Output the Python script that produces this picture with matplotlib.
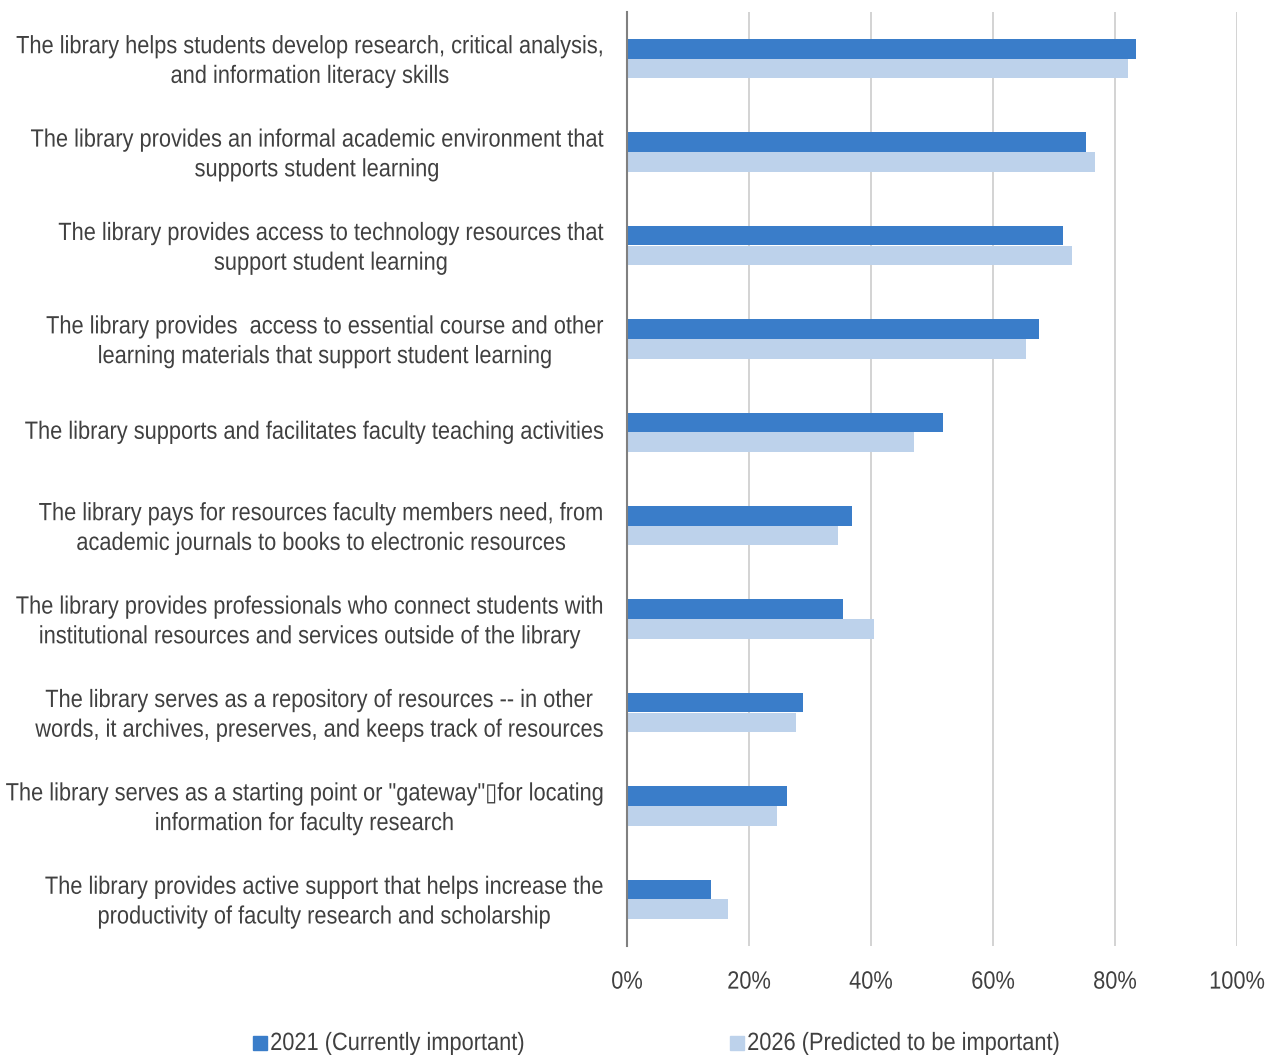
import matplotlib.pyplot as plt
import numpy as np
from matplotlib.patheffects import AbstractPathEffect
from matplotlib.transforms import Affine2D, ScaledTranslation
from matplotlib.patches import Rectangle

plt.rcParams['font.family'] = ['Liberation Sans', 'DejaVu Sans']

categories = [
    "The library helps students develop research, critical analysis,\nand information literacy skills",
    "The library provides an informal academic environment that\nsupports student learning",
    "The library provides access to technology resources that\nsupport student learning",
    "The library provides  access to essential course and other\nlearning materials that support student learning",
    "The library supports and facilitates faculty teaching activities",
    "The library pays for resources faculty members need, from\nacademic journals to books to electronic resources",
    "The library provides professionals who connect students with\ninstitutional resources and services outside of the library",
    "The library serves as a repository of resources -- in other\nwords, it archives, preserves, and keeps track of resources",
    "The library serves as a starting point or \"gateway\"\u25affor locating\ninformation for faculty research",
    "The library provides active support that helps increase the\nproductivity of faculty research and scholarship",
]
series_names = ['2021 (Currently important)', '2026 (Predicted to be important)']
current_2021 = [83.4, 75.2, 71.5, 67.5, 51.8, 36.9, 35.4, 28.9, 26.2, 13.8]
predicted_2026 = [82.1, 76.7, 73.0, 65.4, 47.0, 34.6, 40.5, 27.7, 24.6, 16.6]

SX = 0.872         # horizontal squeeze to get a narrow face
FS = 18
text_color = '#404040'
colors = ['#3A7DC9', '#BDD2EB']


class Squeeze(AbstractPathEffect):
    """Compress glyph outlines horizontally about a pixel x (or the line's own edge)."""

    def __init__(self, sx, x0=None, mode='center'):
        super().__init__()
        self.sx, self.x0, self.mode = sx, x0, mode

    def draw_path(self, renderer, gc, tpath, affine, rgbFace=None):
        if self.x0 is not None:
            x0 = self.x0
        else:
            ext = tpath.get_extents(affine)
            x0 = {'left': ext.x0, 'right': ext.x1}.get(self.mode, 0.5 * (ext.x0 + ext.x1))
        sq = Affine2D().translate(-x0, 0).scale(self.sx, 1).translate(x0, 0)
        renderer.draw_path(gc, tpath, affine + sq, rgbFace)


W, H, DPI = 1268, 1055, 100
fig = plt.figure(figsize=(W / DPI, H / DPI), dpi=DPI)
ax_left, ax_right, ax_top, ax_bot = 627, 1237, 12, 946
ax = fig.add_axes([ax_left / W, 1 - ax_bot / H, (ax_right - ax_left) / W, (ax_bot - ax_top) / H])

y = np.arange(len(categories))
h = 0.21
ax.barh(y - h/2, current_2021, height=h, color=colors[0], zorder=3)
ax.barh(y + h/2, predicted_2026, height=h, color=colors[1], zorder=3)

ax.set_xlim(0, 100)
ax.set_ylim(len(categories) - 0.5, -0.5)
ax.set_xticks(np.arange(0, 101, 20))
ax.set_xticklabels([f'{v}%' for v in range(0, 101, 20)])
ax.set_yticks(y)
ax.set_yticklabels(categories, ha='right', multialignment='center', linespacing=1.3)
ypad = 17
ax.tick_params(axis='y', length=0, pad=ypad, labelsize=FS, labelcolor=text_color)
ax.tick_params(axis='x', length=0, pad=17, labelsize=FS, labelcolor=text_color)
ax.grid(axis='x', color='#D0D0D0', linewidth=1.3, zorder=0)
for s in ['top', 'right', 'bottom']:
    ax.spines[s].set_visible(False)
ax.spines['left'].set_color('#808080')
ax.spines['left'].set_linewidth(1.5)
ax.spines['left'].set_zorder(4)

x_anchor = ax_left - ypad * DPI / 72
lift = ScaledTranslation(0, 3 / DPI, fig.dpi_scale_trans)
for t in ax.get_yticklabels():
    t.set_path_effects([Squeeze(SX, x0=x_anchor)])
    t.set_transform(t.get_transform() + lift)
for t in ax.get_xticklabels():
    t.set_path_effects([Squeeze(SX, mode='center')])

# legend drawn by hand so the squeezed labels sit next to their swatches
leg_y = 1043
for name, col, x in zip(series_names, colors, [253, 730]):
    fig.patches.append(Rectangle((x / W, 1 - (leg_y + 7) / H), 14 / W, 14 / H,
                                 transform=fig.transFigure, color=col))
    fig.text((x + 17) / W, 1 - leg_y / H, name, fontsize=FS, color=text_color,
             va='center', ha='left', path_effects=[Squeeze(SX, mode='left')])

fig.savefig('out.png', dpi=DPI)
